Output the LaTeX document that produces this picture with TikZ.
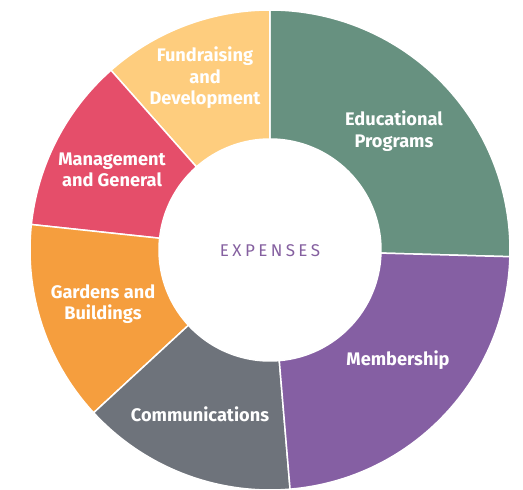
\documentclass[tikz,border=0pt]{standalone}
\usepackage{fontspec}
\setmainfont{Fira Sans}
\newfontfamily\spacedfont[LetterSpace=20]{Fira Sans}
\definecolor{edugreen}{HTML}{679180}
\definecolor{membpurple}{HTML}{855FA3}
\definecolor{commgray}{HTML}{6E737B}
\definecolor{gardorange}{HTML}{F59E3E}
\definecolor{mgmtred}{HTML}{E54E6A}
\definecolor{fundyellow}{HTML}{FECD7E}
\definecolor{titlepurple}{HTML}{8560A0}
\newcommand{\ringpart}[3]{%
  \filldraw[ringslice,fill=#3] (#1:240pt) arc[start angle=#1,end angle=#2,radius=240pt]
    -- (#2:111pt) arc[start angle=#2,end angle=#1,radius=111pt] -- cycle;}

\begin{document}
\begin{tikzpicture}[x=1pt,y=1pt,
  ringslice/.style={draw=white,line width=1.5pt},
  seglabel/.style={text=white,font=\bfseries\fontsize{18.2}{21.5}\selectfont,align=center}]
\useasboundingbox (-270,-240) rectangle (253,250);
\ringpart{-1.6}{90}{edugreen}
\ringpart{90}{131.5}{fundyellow}
\ringpart{131.5}{173.9}{mgmtred}
\ringpart{173.9}{222.7}{gardorange}
\ringpart{222.7}{274.8}{commgray}
\ringpart{274.8}{358.4}{membpurple}
\node[seglabel] (edu) at (124,119) {Educational\\Programs};
\node[seglabel] (fund) at (-65,172) {Fundraising\\and\\Development};
\node[seglabel] (mgmt) at (-158,80) {Management\\and General};
\node[seglabel] (gard) at (-167,-54) {Gardens and\\Buildings};
\node[seglabel] (comm) at (-70,-164) {Communications};
\node[seglabel] (memb) at (128,-110) {Membership};
\node[text=titlepurple,font=\spacedfont\fontsize{17}{20}\selectfont] (title) at (0,-1) {EXPENSES};
\end{tikzpicture}
\end{document}
